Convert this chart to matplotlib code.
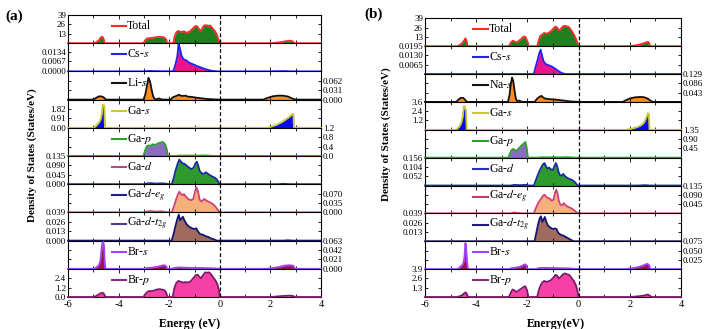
import matplotlib
matplotlib.use('Agg')
from matplotlib import pyplot as plt
from matplotlib.ticker import MultipleLocator

plt.rcParams['font.family'] = ['Liberation Serif', 'DejaVu Serif']
plt.rcParams['mathtext.fontset'] = 'stix'
plt.rcParams['axes.unicode_minus'] = False

# ---- panel (a): CsLiGaBr  (energy eV, DOS) ----
a_total = [(-6, 0), (-5.0, 0), (-4.9, 1), (-4.78, 4), (-4.7, 8), (-4.65, 9), (-4.6, 7), (-4.55, 0),
           (-3.02, 0), (-2.95, 4), (-2.88, 6.5), (-2.78, 7), (-2.65, 7.5), (-2.5, 8.5), (-2.38, 9), (-2.28, 8.5),
           (-2.18, 7.5), (-2.12, 5), (-2.08, 0),
           (-1.84, 0), (-1.78, 10), (-1.72, 15), (-1.65, 17), (-1.58, 16), (-1.5, 15.5), (-1.42, 16.5), (-1.32, 14.5),
           (-1.22, 15.5), (-1.1, 19), (-1.0, 23), (-0.92, 24), (-0.85, 21), (-0.78, 17), (-0.72, 19), (-0.62, 24.5),
           (-0.55, 25), (-0.45, 24), (-0.38, 24.5), (-0.3, 21), (-0.2, 17), (-0.12, 12), (-0.05, 5), (0, 0),
           (2.05, 0), (2.3, 1), (2.5, 2), (2.65, 3), (2.78, 3.5), (2.88, 2.5), (2.95, 0), (4, 0)]
a_cs = [(-6, 0), (-3.0, 0), (-2.8, 0.0003), (-2.6, 0.0002), (-2.4, 0.0001), (-1.85, 0),
        (-1.8, 0.002), (-1.75, 0.005), (-1.68, 0.01), (-1.63, 0.0185), (-1.58, 0.016), (-1.52, 0.011),
        (-1.45, 0.0085), (-1.38, 0.0078), (-1.3, 0.0072), (-1.22, 0.006), (-1.12, 0.0052), (-1.0, 0.0044),
        (-0.9, 0.0036), (-0.8, 0.003), (-0.65, 0.002), (-0.5, 0.0012), (-0.35, 0.0005), (-0.2, 0.0002), (-0.1, 0),
        (2.0, 0), (2.5, 0.0002), (2.9, 0), (4, 0)]
a_li = [(-6, 0), (-5.0, 0), (-4.9, 0.005), (-4.8, 0.01), (-4.7, 0.011), (-4.6, 0.008), (-4.5, 0),
        (-3.02, 0), (-2.95, 0.015), (-2.88, 0.045), (-2.82, 0.072), (-2.76, 0.06), (-2.7, 0.035), (-2.64, 0.012),
        (-2.58, 0.002), (-2.5, 0.001), (-2.4, 0.004), (-2.33, 0.001), (-2.2, 0),
        (-1.95, 0), (-1.85, 0.008), (-1.72, 0.012), (-1.62, 0.016), (-1.55, 0.013), (-1.45, 0.012), (-1.35, 0.013),
        (-1.28, 0.01), (-1.15, 0.009), (-1.05, 0.008), (-0.9, 0.006), (-0.7, 0.004), (-0.5, 0.002), (-0.3, 0.001), (0, 0),
        (1.72, 0), (1.9, 0.006), (2.1, 0.011), (2.3, 0.013), (2.5, 0.013), (2.7, 0.01), (2.85, 0.004), (3.0, 0), (4, 0)]
a_gas = [(-6, 0), (-5.0, 0), (-4.92, 0.12), (-4.83, 0.35), (-4.75, 0.6), (-4.7, 0.9), (-4.66, 1.4), (-4.63, 2.2),
         (-4.59, 2.25), (-4.56, 2.0), (-4.54, 0),
         (1.85, 0), (2.05, 0.12), (2.25, 0.3), (2.45, 0.55), (2.6, 0.8), (2.72, 1.0), (2.82, 1.2), (2.88, 1.35),
         (2.91, 1.3), (2.93, 0), (4, 0)]
a_gap = [(-6, 0), (-3.02, 0), (-2.95, 0.25), (-2.88, 0.42), (-2.8, 0.45), (-2.72, 0.44), (-2.65, 0.5), (-2.58, 0.47),
         (-2.5, 0.5), (-2.42, 0.55), (-2.35, 0.56), (-2.28, 0.6), (-2.22, 0.57), (-2.16, 0.5), (-2.1, 0.3), (-2.05, 0),
         (-1.7, 0), (-1.6, 0.02), (-1.4, 0.015), (-1.2, 0.02), (-0.9, 0.015), (-0.6, 0.025), (-0.4, 0.015), (-0.2, 0), (4, 0)]
a_gad = [(-6, 0), (-3.0, 0), (-2.85, 0.004), (-2.7, 0.005), (-2.55, 0.003), (-2.3, 0.004), (-2.15, 0.003), (-2.0, 0),
         (-1.9, 0), (-1.82, 0.03), (-1.74, 0.07), (-1.66, 0.1), (-1.6, 0.118), (-1.55, 0.11), (-1.48, 0.1), (-1.4, 0.098),
         (-1.32, 0.09), (-1.22, 0.08), (-1.12, 0.072), (-1.03, 0.08), (-0.96, 0.1), (-0.91, 0.108), (-0.86, 0.092),
         (-0.8, 0.065), (-0.72, 0.052), (-0.63, 0.05), (-0.55, 0.057), (-0.47, 0.05), (-0.38, 0.042), (-0.28, 0.036),
         (-0.18, 0.03), (-0.1, 0.02), (-0.03, 0.005), (0, 0), (2.3, 0), (2.5, 0.002), (2.8, 0), (4, 0)]
a_eg = [(-6, 0), (-3.0, 0), (-2.85, 0.004), (-2.72, 0.005), (-2.55, 0.003), (-2.3, 0.004), (-2.15, 0.002), (-2.0, 0),
        (-1.9, 0), (-1.82, 0.02), (-1.74, 0.045), (-1.66, 0.066), (-1.6, 0.077), (-1.55, 0.07), (-1.48, 0.064),
        (-1.42, 0.068), (-1.35, 0.06), (-1.25, 0.05), (-1.15, 0.045), (-1.05, 0.05), (-0.97, 0.08), (-0.92, 0.093),
        (-0.86, 0.078), (-0.8, 0.048), (-0.72, 0.04), (-0.62, 0.05), (-0.54, 0.045), (-0.45, 0.04), (-0.36, 0.036),
        (-0.26, 0.03), (-0.16, 0.02), (-0.07, 0.008), (0, 0), (4, 0)]
a_t2g = [(-6, 0), (-1.9, 0), (-1.82, 0.01), (-1.74, 0.022), (-1.67, 0.031), (-1.62, 0.036), (-1.57, 0.028),
         (-1.52, 0.03), (-1.46, 0.033), (-1.4, 0.028), (-1.3, 0.022), (-1.2, 0.019), (-1.1, 0.017), (-1.0, 0.016),
         (-0.93, 0.017), (-0.87, 0.013), (-0.78, 0.009), (-0.66, 0.008), (-0.55, 0.006), (-0.45, 0.005),
         (-0.35, 0.003), (-0.25, 0.002), (-0.12, 0), (2.5, 0), (2.7, 0.0004), (2.9, 0), (4, 0)]
a_brs = [(-6, 0), (-4.98, 0), (-4.88, 0.003), (-4.78, 0.008), (-4.72, 0.018), (-4.68, 0.04), (-4.64, 0.058),
         (-4.6, 0.06), (-4.57, 0.045), (-4.55, 0.015), (-4.52, 0),
         (-3.02, 0), (-2.85, 0.002), (-2.6, 0.003), (-2.42, 0.005), (-2.3, 0.007), (-2.2, 0.008), (-2.12, 0.006), (-2.08, 0),
         (-1.9, 0), (-1.8, 0.002), (-1.6, 0.003), (-1.4, 0.0025), (-1.1, 0.002), (-0.8, 0.002), (-0.5, 0.0015),
         (-0.2, 0.001), (0, 0),
         (1.85, 0), (2.1, 0.002), (2.35, 0.004), (2.55, 0.007), (2.75, 0.008), (2.9, 0.007), (2.98, 0), (4, 0)]
a_brp = [(-6, 0), (-5.0, 0), (-4.9, 0.1), (-4.8, 0.3), (-4.7, 0.5), (-4.63, 0.55), (-4.58, 0.4), (-4.52, 0),
         (-3.02, 0), (-2.95, 0.35), (-2.85, 0.7), (-2.75, 0.75), (-2.62, 0.8), (-2.5, 0.95), (-2.38, 1.0), (-2.28, 0.95),
         (-2.18, 0.85), (-2.12, 0.55), (-2.07, 0),
         (-1.86, 0), (-1.8, 1.1), (-1.72, 1.8), (-1.64, 2.05), (-1.55, 1.95), (-1.45, 1.85), (-1.35, 1.9), (-1.25, 1.85),
         (-1.15, 2.0), (-1.05, 2.4), (-0.95, 2.8), (-0.88, 2.85), (-0.8, 2.55), (-0.74, 2.4), (-0.66, 2.8), (-0.58, 3.15),
         (-0.5, 3.1), (-0.42, 3.15), (-0.36, 2.95), (-0.26, 2.5), (-0.16, 2.05), (-0.08, 1.5), (-0.02, 0.6), (0, 0),
         (2.0, 0), (2.3, 0.08), (2.6, 0.15), (2.8, 0.18), (2.92, 0.1), (2.97, 0), (4, 0)]

# ---- panel (b): CsNaGaBr ----
b_total = [(-6, 0), (-4.75, 0), (-4.65, 1.5), (-4.55, 4), (-4.47, 8), (-4.42, 11), (-4.38, 8), (-4.33, 0),
           (-2.72, 0), (-2.65, 5), (-2.58, 7.5), (-2.52, 7), (-2.43, 5), (-2.35, 7), (-2.25, 10), (-2.15, 13.5),
           (-2.08, 13), (-2.0, 7), (-1.95, 0),
           (-1.62, 0), (-1.56, 8), (-1.5, 14), (-1.42, 16.5), (-1.34, 18.5), (-1.25, 17.5), (-1.18, 18.5), (-1.08, 21),
           (-0.98, 25), (-0.9, 27.5), (-0.84, 26), (-0.77, 22), (-0.7, 24), (-0.6, 28), (-0.52, 28.5), (-0.44, 27.5),
           (-0.37, 26.5), (-0.28, 22), (-0.18, 16), (-0.1, 10), (-0.03, 3), (0, 0),
           (1.98, 0), (2.2, 1), (2.4, 2.5), (2.55, 4), (2.68, 6), (2.74, 5.5), (2.8, 0), (4, 0)]
b_cs = [(-6, 0), (-1.75, 0), (-1.68, 0.005), (-1.6, 0.01), (-1.53, 0.015), (-1.48, 0.017), (-1.43, 0.013),
        (-1.37, 0.009), (-1.3, 0.0072), (-1.22, 0.0065), (-1.12, 0.0058), (-1.02, 0.005), (-0.92, 0.0038),
        (-0.82, 0.0025), (-0.72, 0.0013), (-0.62, 0.0005), (-0.52, 0), (4, 0)]
b_na = [(-6, 0), (-4.78, 0), (-4.7, 0.01), (-4.6, 0.019), (-4.5, 0.018), (-4.42, 0.008), (-4.36, 0),
        (-2.76, 0), (-2.7, 0.03), (-2.65, 0.08), (-2.6, 0.113), (-2.55, 0.095), (-2.5, 0.05), (-2.45, 0.015),
        (-2.4, 0.004), (-2.32, 0.006), (-2.25, 0.002), (-2.15, 0),
        (-1.72, 0), (-1.62, 0.015), (-1.52, 0.024), (-1.45, 0.028), (-1.38, 0.02), (-1.3, 0.015), (-1.2, 0.014),
        (-1.1, 0.012), (-1.0, 0.012), (-0.85, 0.01), (-0.7, 0.008), (-0.5, 0.005), (-0.3, 0.002), (-0.1, 0.001), (0, 0),
        (1.72, 0), (1.85, 0.008), (2.0, 0.016), (2.2, 0.021), (2.4, 0.023), (2.55, 0.022), (2.7, 0.015), (2.82, 0.005),
        (2.9, 0), (4, 0)]
b_gas = [(-6, 0), (-4.8, 0), (-4.72, 0.2), (-4.64, 0.5), (-4.58, 0.9), (-4.53, 1.6), (-4.5, 2.5), (-4.47, 3.1),
         (-4.43, 2.9), (-4.4, 2.5), (-4.37, 0),
         (1.85, 0), (2.05, 0.12), (2.25, 0.3), (2.4, 0.5), (2.52, 0.8), (2.6, 1.2), (2.66, 1.7), (2.71, 2.15),
         (2.74, 2.05), (2.77, 0), (4, 0)]
b_gap = [(-6, 0), (-2.75, 0), (-2.68, 0.2), (-2.61, 0.38), (-2.55, 0.42), (-2.48, 0.36), (-2.42, 0.32), (-2.36, 0.42),
         (-2.3, 0.5), (-2.22, 0.6), (-2.15, 0.68), (-2.08, 0.76), (-2.03, 0.5), (-1.98, 0),
         (-1.6, 0), (-1.45, 0.02), (-1.2, 0.015), (-0.95, 0.02), (-0.7, 0.015), (-0.45, 0.025), (-0.25, 0.01),
         (-0.15, 0), (4, 0)]
b_gad = [(-6, 0), (-2.65, 0), (-2.5, 0.004), (-2.35, 0.002), (-2.15, 0.003), (-2.05, 0.004), (-1.95, 0),
         (-1.75, 0), (-1.67, 0.03), (-1.58, 0.065), (-1.5, 0.09), (-1.43, 0.11), (-1.37, 0.122), (-1.33, 0.125),
         (-1.28, 0.11), (-1.22, 0.095), (-1.15, 0.1), (-1.08, 0.09), (-1.0, 0.088), (-0.94, 0.11), (-0.89, 0.126),
         (-0.84, 0.11), (-0.79, 0.08), (-0.73, 0.058), (-0.66, 0.055), (-0.6, 0.065), (-0.53, 0.052), (-0.44, 0.042),
         (-0.34, 0.036), (-0.24, 0.03), (-0.15, 0.02), (-0.07, 0.006), (-0.03, 0), (2.3, 0), (2.6, 0.002), (2.8, 0), (4, 0)]
b_eg = [(-6, 0), (-2.65, 0), (-2.52, 0.005), (-2.4, 0.002), (-2.2, 0),
        (-1.75, 0), (-1.67, 0.025), (-1.58, 0.05), (-1.5, 0.065), (-1.43, 0.078), (-1.37, 0.088), (-1.32, 0.09),
        (-1.27, 0.08), (-1.2, 0.075), (-1.13, 0.072), (-1.06, 0.062), (-0.98, 0.066), (-0.92, 0.1), (-0.87, 0.115),
        (-0.82, 0.095), (-0.77, 0.06), (-0.71, 0.042), (-0.64, 0.04), (-0.58, 0.05), (-0.51, 0.04), (-0.42, 0.032),
        (-0.32, 0.027), (-0.22, 0.02), (-0.13, 0.01), (-0.05, 0.002), (0, 0), (4, 0)]
b_t2g = [(-6, 0), (-1.72, 0), (-1.65, 0.012), (-1.58, 0.024), (-1.52, 0.032), (-1.47, 0.035), (-1.42, 0.027),
         (-1.37, 0.03), (-1.32, 0.034), (-1.27, 0.028), (-1.2, 0.022), (-1.1, 0.019), (-1.0, 0.017), (-0.92, 0.018),
         (-0.86, 0.017), (-0.8, 0.012), (-0.7, 0.009), (-0.6, 0.008), (-0.5, 0.006), (-0.4, 0.004), (-0.3, 0.002),
         (-0.2, 0), (4, 0)]
b_brs = [(-6, 0), (-4.75, 0), (-4.65, 0.004), (-4.56, 0.01), (-4.5, 0.016), (-4.46, 0.032), (-4.42, 0.07),
         (-4.39, 0.055), (-4.36, 0.02), (-4.32, 0),
         (-2.72, 0), (-2.6, 0.003), (-2.45, 0.004), (-2.3, 0.006), (-2.18, 0.01), (-2.1, 0.013), (-2.04, 0.01), (-2.0, 0),
         (-1.65, 0), (-1.55, 0.003), (-1.3, 0.0035), (-1.0, 0.003), (-0.7, 0.0025), (-0.4, 0.002), (-0.2, 0.001), (0, 0),
         (1.8, 0), (2.05, 0.002), (2.3, 0.005), (2.5, 0.009), (2.62, 0.013), (2.7, 0.014), (2.76, 0.01), (2.8, 0), (4, 0)]
b_brp = [(-6, 0), (-4.75, 0), (-4.65, 0.1), (-4.55, 0.25), (-4.46, 0.55), (-4.41, 0.65), (-4.37, 0.45), (-4.32, 0),
         (-2.72, 0), (-2.65, 0.6), (-2.58, 1.05), (-2.52, 0.95), (-2.43, 0.7), (-2.35, 0.9), (-2.25, 1.15), (-2.15, 1.4),
         (-2.08, 1.5), (-2.02, 1.0), (-1.96, 0),
         (-1.62, 0), (-1.55, 1.0), (-1.47, 1.75), (-1.4, 2.1), (-1.34, 2.25), (-1.26, 2.1), (-1.18, 2.2), (-1.08, 2.35),
         (-0.98, 2.75), (-0.9, 3.1), (-0.84, 3.0), (-0.77, 2.6), (-0.7, 2.8), (-0.6, 3.2), (-0.52, 3.3), (-0.44, 3.15),
         (-0.37, 3.1), (-0.28, 2.7), (-0.18, 2.2), (-0.1, 1.6), (-0.03, 0.6), (0, 0),
         (2.0, 0), (2.3, 0.08), (2.55, 0.2), (2.7, 0.35), (2.78, 0.2), (2.84, 0), (4, 0)]

names_a = ['Total', 'Cs-$s$', 'Li-$s$', 'Ga-$s$', 'Ga-$p$', 'Ga-$d$', 'Ga-$d$-$e_g$', 'Ga-$d$-$t_{2g}$', 'Br-$s$', 'Br-$p$']
names_b = ['Total', 'Cs-$s$', 'Na-$s$', 'Ga-$s$', 'Ga-$p$', 'Ga-$d$', 'Ga-$d$-$e_g$', 'Ga-$d$-$t_{2g}$', 'Br-$s$', 'Br-$p$']

ticks_a = [[13, 26, 39], [0, 0.0067, 0.0134], [0, 0.031, 0.062], [0, 0.91, 1.82], [0, 0.4, 0.8, 1.2],
           [0, 0.045, 0.090, 0.135], [0, 0.035, 0.070], [0, 0.013, 0.026, 0.039], [0, 0.021, 0.042, 0.063], [0, 1.2, 2.4]]
ticklabels_a = [['13', '26', '39'], ['0.0000', '0.0067', '0.0134'], ['0.000', '0.031', '0.062'],
                ['0.00', '0.91', '1.82'], ['0.0', '0.4', '0.8', '1.2'], ['0.000', '0.045', '0.090', '0.135'],
                ['0.000', '0.035', '0.070'], ['0.000', '0.013', '0.026', '0.039'],
                ['0.000', '0.021', '0.042', '0.063'], ['0.0', '1.2', '2.4']]
ymax_a = [39, 0.019, 0.093, 2.73, 1.2, 0.135, 0.105, 0.039, 0.063, 3.6]

ticks_b = [[13, 26, 39], [0.0065, 0.0130, 0.0195], [0.043, 0.086, 0.129], [1.2, 2.4, 3.6], [0.45, 0.90, 1.35],
           [0.052, 0.104, 0.156], [0.045, 0.090, 0.135], [0.013, 0.026, 0.039], [0.025, 0.050, 0.075], [1.3, 2.6, 3.9]]
ticklabels_b = [['13', '26', '39'], ['0.0065', '0.0130', '0.0195'], ['0.043', '0.086', '0.129'],
                ['1.2', '2.4', '3.6'], ['0.45', '0.90', '1.35'], ['0.052', '0.104', '0.156'],
                ['0.045', '0.090', '0.135'], ['0.013', '0.026', '0.039'], ['0.025', '0.050', '0.075'],
                ['1.3', '2.6', '3.9']]
ymax_b = [39, 0.0195, 0.129, 3.6, 1.35, 0.156, 0.135, 0.039, 0.075, 3.9]

label_side = ['left', 'left', 'right', 'left', 'right', 'left', 'right', 'left', 'right', 'left']

line_colors = ['#ff2a2a', '#2222ee', '#111111', '#c8c832', '#2ca02c', '#1a2a9a', '#d0407a', '#141470', '#a040ff', '#7a1a6a']
fill_colors = ['#1f7f1f', '#f0148c', '#ff8c1e', '#0a0af0', '#8a6cc0', '#2e9a2e', '#f6b07a', '#a06a5e', '#a0104a', '#f540a8']
legend_colors_a = ['#ff2a2a', '#2222ee', '#111111', '#c8c832', '#2ca02c', '#b0507a', '#1c1c90', '#4a3a9a', '#a040ff', '#902a80']
legend_colors_b = ['#ff2a2a', '#2222ee', '#111111', '#c8c832', '#2ca02c', '#2030c0', '#d03070', '#1a1a80', '#a040ff', '#902a80']

curves_a = [a_total, a_cs, a_li, a_gas, a_gap, a_gad, a_eg, a_t2g, a_brs, a_brp]
curves_b = [b_total, b_cs, b_na, b_gas, b_gap, b_gad, b_eg, b_t2g, b_brs, b_brp]

W, H = 719, 329
fig = plt.figure(figsize=(W / 100, H / 100), dpi=100)


def draw_panel(left_px, right_px, top_px, bottom_px, curves, names, ticks, ticklabels, ymax, leg_colors, leg_x):
    n = len(curves)
    h = (bottom_px - top_px) / n
    for i in range(n):
        y0 = bottom_px - (n - i) * h
        ax = fig.add_axes([left_px / W, 1 - (y0 + h) / H, (right_px - left_px) / W, h / H])
        e = [p[0] for p in curves[i]]
        d = [p[1] for p in curves[i]]
        ax.fill_between(e, d, 0, color=fill_colors[i], lw=0, zorder=1)
        ax.plot(e, d, color=line_colors[i], lw=1.3, zorder=3, clip_on=False)
        ax.axvline(0, color='k', ls=(0, (3, 2)), lw=0.9, zorder=4)
        ax.set_xlim(-6, 4)
        ax.set_ylim(0, ymax[i])
        ax.xaxis.set_major_locator(MultipleLocator(2))
        ax.xaxis.set_minor_locator(MultipleLocator(1))
        ax.set_yticks(ticks[i])
        ax.set_yticklabels(ticklabels[i])
        right = label_side[i] == 'right'
        ax.tick_params(axis='y', which='both', direction='in', left=True, right=True,
                       labelleft=not right, labelright=right, labelsize=6.5, pad=1.5, length=2.5, width=0.6)
        ax.tick_params(axis='x', which='both', direction='in', top=True, bottom=True,
                       labelbottom=(i == n - 1), labelsize=7.5, pad=2.5, width=0.6)
        ax.tick_params(axis='x', which='major', length=3)
        ax.tick_params(axis='x', which='minor', length=2)
        for s in ax.spines.values():
            s.set_linewidth(0.8)
        ax.plot([leg_x, leg_x + 0.058], [0.6, 0.6], transform=ax.transAxes, color=leg_colors[i], lw=1.5, zorder=5)
        ax.text(leg_x + 0.062, 0.6, names[i], transform=ax.transAxes, fontsize=8.5, va='center', ha='left')


draw_panel(68, 321, 15, 297, curves_a, names_a, ticks_a, ticklabels_a, ymax_a, legend_colors_a, 0.172)
draw_panel(425, 681, 18.3, 297, curves_b, names_b, ticks_b, ticklabels_b, ymax_b, legend_colors_b, 0.187)

fig.text(5 / W, 1 - 16 / H, '(a)', fontsize=11, fontweight='bold', va='center', ha='left')
fig.text(364 / W, 1 - 14 / H, '(b)', fontsize=11, fontweight='bold', va='center', ha='left')
fig.text(32 / W, 1 - 155 / H, 'Density of States (States/eV)', rotation=90, fontsize=8,
         fontweight='bold', va='center', ha='center')
fig.text(386 / W, 1 - 134 / H, 'Density of States (States/eV)', rotation=90, fontsize=8,
         fontweight='bold', va='center', ha='center')
fig.text(190 / W, 1 - 324 / H, 'Energy (eV)', fontsize=8.5, fontweight='bold', va='center', ha='center')
fig.text(556 / W, 1 - 324 / H, 'Energy(eV)', fontsize=8.5, fontweight='bold', va='center', ha='center')

fig.savefig('out.png', dpi=100)
